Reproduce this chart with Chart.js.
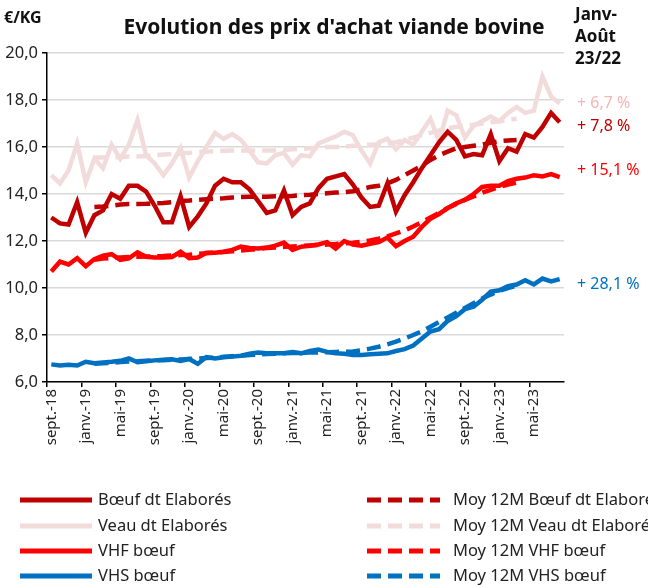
<!DOCTYPE html>
<html>
<head>
<meta charset="utf-8">
<script src="https://cdn.jsdelivr.net/npm/chart.js@4.4.1/dist/chart.umd.min.js"></script>
<style>
  html, body { margin: 0; padding: 0; background: #fff; overflow: hidden; }
  #wrap { width: 648px; height: 585px; }
</style>
</head>
<body>
<div id="wrap"><canvas id="chart" width="648" height="585"></canvas></div>
<script>
// months from sept. 2018 to août 2023
const monthNames = ['janv.', 'févr.', 'mars', 'avr.', 'mai', 'juin', 'juil.', 'août', 'sept.', 'oct.', 'nov.', 'déc.'];
const labels = [];
for (let i = 0; i < 60; i++) {
  const m = (8 + i) % 12;
  const y = 18 + Math.floor((8 + i) / 12);
  labels.push(monthNames[m] + '-' + y);
}

const boeuf = [13.0, 12.75, 12.7, 13.65, 12.35, 13.1, 13.3, 14.0, 13.8, 14.35, 14.35, 14.1,
  13.5, 12.8, 12.8, 13.9, 12.6, 13.05, 13.6, 14.35, 14.65, 14.5, 14.5, 14.2,
  13.7, 13.2, 13.3, 14.15, 13.1, 13.45, 13.6, 14.25, 14.65, 14.75, 14.85, 14.4,
  13.85, 13.45, 13.5, 14.45, 13.25, 13.95, 14.5, 15.1, 15.65, 16.2, 16.65, 16.3,
  15.6, 15.7, 15.65, 16.55, 15.4, 15.95, 15.8, 16.55, 16.4, 16.85, 17.45, 17.05];

const veau = [14.8, 14.45, 15.0, 16.15, 14.5, 15.5, 15.1, 16.1, 15.5, 16.1, 17.15, 15.65,
  15.3, 14.8, 15.3, 15.95, 14.7, 15.4, 16.0, 16.6, 16.35, 16.55, 16.3, 15.85,
  15.35, 15.3, 15.65, 15.75, 15.25, 15.65, 15.6, 16.15, 16.3, 16.45, 16.65, 16.5,
  15.85, 15.3, 16.2, 16.35, 15.9, 16.3, 16.1, 16.65, 17.2, 16.25, 17.55, 17.35,
  16.4, 16.9, 17.1, 17.3, 17.1, 17.45, 17.7, 17.45, 17.55, 19.0, 18.15, 17.85];

const vhf = [10.7, 11.12, 11.0, 11.27, 10.93, 11.23, 11.38, 11.44, 11.2, 11.26, 11.52, 11.33,
  11.3, 11.3, 11.32, 11.54, 11.27, 11.3, 11.5, 11.5, 11.54, 11.62, 11.76, 11.7,
  11.68, 11.72, 11.8, 11.93, 11.62, 11.76, 11.8, 11.85, 11.95, 11.68, 12.0, 11.85,
  11.8, 11.88, 11.95, 12.15, 11.78, 12.0, 12.18, 12.6, 12.95, 13.15, 13.4, 13.6,
  13.75, 14.0, 14.3, 14.35, 14.35, 14.55, 14.65, 14.7, 14.8, 14.75, 14.85, 14.72];

const vhs = [6.75, 6.7, 6.73, 6.7, 6.86, 6.8, 6.83, 6.86, 6.9, 7.0, 6.84, 6.88,
  6.92, 6.95, 6.97, 6.9, 6.98, 6.77, 7.06, 7.0, 7.05, 7.08, 7.12, 7.2,
  7.25, 7.22, 7.22, 7.22, 7.28, 7.22, 7.32, 7.38, 7.28, 7.22, 7.2, 7.15,
  7.15, 7.18, 7.2, 7.22, 7.32, 7.4, 7.55, 7.85, 8.15, 8.25, 8.6, 8.8,
  9.1, 9.2, 9.5, 9.85, 9.9, 10.08, 10.15, 10.33, 10.15, 10.4, 10.28, 10.38];

// 12-month averages (first and last months not shown)
const moyBoeuf = [null, null, null, null, null, 13.45, 13.47, 13.5, 13.55, 13.57, 13.57, 13.58,
  13.6, 13.62, 13.65, 13.7, 13.72, 13.75, 13.78, 13.8, 13.82, 13.85, 13.87, 13.88,
  13.88, 13.88, 13.9, 13.9, 13.92, 13.95, 13.97, 14.0, 14.03, 14.06, 14.08, 14.12,
  14.2, 14.3, 14.35, 14.45, 14.6, 14.8, 15.0, 15.2, 15.45, 15.65, 15.8, 15.95,
  16.0, 16.05, 16.1, 16.18, 16.25, 16.28, 16.3, null, null, null, null, null];

const moyVeau = [null, null, null, null, null, 15.55, 15.55, 15.55, 15.57, 15.6, 15.6, 15.62,
  15.65, 15.68, 15.7, 15.72, 15.75, 15.78, 15.8, 15.82, 15.84, 15.85, 15.85, 15.85,
  15.85, 15.85, 15.85, 15.87, 15.9, 15.92, 15.95, 15.97, 16.0, 16.0, 16.02, 16.05,
  16.07, 16.1, 16.12, 16.15, 16.2, 16.3, 16.4, 16.5, 16.6, 16.7, 16.8, 16.85,
  16.9, 16.95, 17.0, 17.05, 17.1, 17.15, 17.2, null, null, null, null, null];

const moyVhf = [null, null, null, null, null, 11.2, 11.25, 11.28, 11.3, 11.32, 11.33, 11.34,
  11.35, 11.36, 11.38, 11.4, 11.42, 11.45, 11.48, 11.5, 11.53, 11.56, 11.6, 11.63,
  11.66, 11.7, 11.72, 11.75, 11.77, 11.79, 11.81, 11.83, 11.85, 11.87, 11.9, 11.93,
  11.97, 12.02, 12.1, 12.2, 12.32, 12.45, 12.62, 12.8, 13.0, 13.2, 13.4, 13.58,
  13.75, 13.9, 14.05, 14.18, 14.3, 14.4, 14.48, null, null, null, null, null];

const moyVhs = [null, null, null, null, null, 6.78, 6.8, 6.82, 6.85, 6.87, 6.88, 6.9,
  6.92, 6.93, 6.95, 6.96, 6.98, 7.0, 7.02, 7.04, 7.07, 7.1, 7.12, 7.15,
  7.17, 7.19, 7.2, 7.22, 7.23, 7.24, 7.25, 7.26, 7.27, 7.28, 7.29, 7.3,
  7.35, 7.42, 7.5, 7.6, 7.72, 7.85, 8.0, 8.15, 8.35, 8.55, 8.75, 8.95,
  9.15, 9.35, 9.55, 9.72, 9.88, 10.0, 10.1, null, null, null, null, null];

const yTicks = [6, 8, 10, 12, 14, 16, 18, 20];

const variations = ['+ 6,7 %', '+ 7,8 %', '+ 15,1 %', '+ 28,1 %'];

const C_BOEUF = '#c00000';
const C_VEAU = '#f2dcdb';
const C_VHF = '#ff0000';
const C_VHS = '#0070c0';
const FONT = '"Noto Sans", sans-serif';
const DASH = [14, 7];

function ds(label, data, color, dashed, order) {
  return {
    label: label,
    data: data,
    borderColor: color,
    backgroundColor: color,
    borderWidth: 4.5,
    borderDash: dashed ? DASH : [],
    pointRadius: 0,
    tension: 0,
    spanGaps: false,
    order: order
  };
}

// text around the plot + two-column legend
const decor = {
  id: 'decor',
  afterDraw(chart) {
    const c = chart.ctx;
    c.save();
    c.textBaseline = 'middle';
    c.fillStyle = '#111';
    c.textAlign = 'left';
    c.font = 'bold 16px ' + FONT;
    c.fillText('€/KG', 4, 18);
    c.font = 'bold 21px ' + FONT;
    c.textAlign = 'center';
    c.fillText("Evolution des prix d'achat viande bovine", 334, 28);
    c.font = 'bold 17px ' + FONT;
    c.textAlign = 'left';
    c.fillText('Janv-', 575, 15);
    c.fillText('Août', 575, 37);
    c.fillText('23/22', 575, 59);

    c.font = '16px ' + FONT;
    const vColors = ['#f4b5b5', C_BOEUF, C_VHF, C_VHS];
    const vY = [103, 126, 170, 284];
    variations.forEach((t, i) => {
      c.fillStyle = vColors[i];
      c.fillText(t, 577, vY[i]);
    });

    // legend
    const rows = [500, 526, 551, 576];
    chart.data.datasets.forEach((d, i) => {
      const col = i < 4 ? 0 : 1;
      const y = rows[i % 4];
      const x0 = col ? 367 : 20;
      const x1 = col ? 440 : 92;
      c.beginPath();
      c.strokeStyle = d.borderColor;
      c.lineWidth = 5;
      c.lineCap = 'butt';
      c.setLineDash(d.borderDash);
      c.moveTo(x0, y);
      c.lineTo(x1, y);
      c.stroke();
      c.setLineDash([]);
      c.fillStyle = '#222';
      c.font = '16.5px ' + FONT;
      c.fillText(d.label, col ? 453 : 98, y);
    });
    c.restore();
  }
};

new Chart(document.getElementById('chart'), {
  type: 'line',
  data: {
    labels: labels,
    datasets: [
      ds('Bœuf dt Elaborés', boeuf, C_BOEUF, false, 5),
      ds('Veau dt Elaborés', veau, C_VEAU, false, 6),
      ds('VHF bœuf', vhf, C_VHF, false, 7),
      ds('VHS bœuf', vhs, C_VHS, false, 8),
      ds('Moy 12M Bœuf dt Elaborés', moyBoeuf, C_BOEUF, true, 1),
      ds('Moy 12M Veau dt Elaborés', moyVeau, C_VEAU, true, 2),
      ds('Moy 12M VHF bœuf', moyVhf, C_VHF, true, 3),
      ds('Moy 12M VHS bœuf', moyVhs, C_VHS, true, 4)
    ]
  },
  options: {
    responsive: false,
    animation: false,
    layout: { padding: { top: 53, right: 84, bottom: 115, left: 0 } },
    plugins: {
      legend: { display: false },
      title: { display: false },
      tooltip: { enabled: false }
    },
    scales: {
      x: {
        offset: true,
        afterFit: s => { s.height = 88; },
        grid: {
          offset: true,
          drawOnChartArea: false,
          tickLength: 5,
          lineWidth: 1.5,
          color: ctx => ctx.index % 4 === 0 ? '#000' : 'rgba(0,0,0,0)'
        },
        border: { color: '#000', width: 1.5 },
        ticks: {
          autoSkip: false,
          maxRotation: 90,
          minRotation: 90,
          padding: 2,
          color: '#222',
          font: { family: FONT, size: 15 },
          callback: (v, i) => i % 4 === 0 ? labels[i] : ''
        }
      },
      y: {
        min: 6,
        max: 20,
        afterFit: s => { s.width = 47; },
        afterBuildTicks: s => { s.ticks = yTicks.map(v => ({ value: v })); },
        grid: { color: '#d9d9d9', lineWidth: 1.5, tickColor: '#000', tickLength: 5 },
        border: { color: '#000', width: 1.5 },
        ticks: {
          padding: 4,
          color: '#222',
          font: { family: FONT, size: 16.5 },
          callback: v => v.toFixed(1).replace('.', ',')
        }
      }
    }
  },
  plugins: [decor]
});
</script>
</body>
</html>
